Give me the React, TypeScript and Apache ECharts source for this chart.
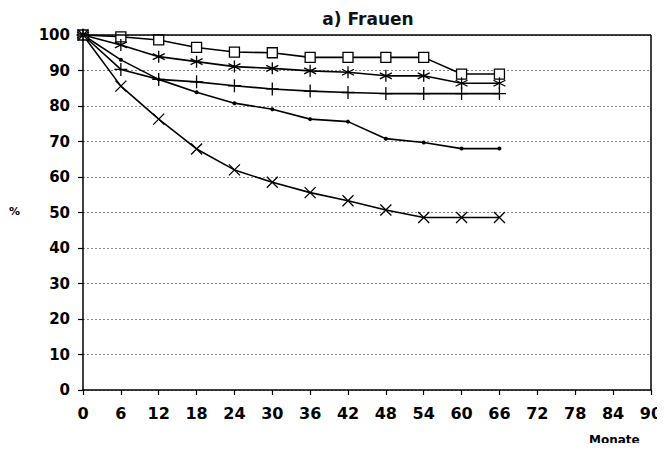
import React, { useEffect, useRef } from "react";
import * as echarts from "echarts";

const months = [0, 6, 12, 18, 24, 30, 36, 42, 48, 54, 60, 66];
const squareSeries = [100, 99.5, 98.6, 96.5, 95.2, 95.0, 93.7, 93.7, 93.7, 93.7, 89.0, 89.0];
const starSeries = [100, 97.2, 93.9, 92.5, 91.1, 90.6, 89.9, 89.5, 88.5, 88.5, 86.4, 86.4];
const plusSeries = [100, 90.3, 87.5, 86.8, 85.7, 84.8, 84.2, 83.8, 83.5, 83.5, 83.5, 83.5];
const dotSeries = [100, 93.0, 87.5, 83.9, 80.8, 79.1, 76.3, 75.6, 70.8, 69.7, 68.0, 68.0];
const crossSeries = [100, 85.6, 76.3, 67.9, 62.0, 58.5, 55.6, 53.3, 50.7, 48.6, 48.6, 48.6];

const xTicks = [0, 6, 12, 18, 24, 30, 36, 42, 48, 54, 60, 66, 72, 78, 84, 90];
const title = "a) Frauen";
const yName = "%";
const xName = "Monate";

const SYM_X = "path://M0,0 L10,10 M10,0 L0,10";
const SYM_STAR = "path://M5,0 L5,10 M0.7,2.5 L9.3,7.5 M0.7,7.5 L9.3,2.5";
const SYM_PLUS = "path://M5,0 L5,10 M1,5 L9,5";

function pair(vals: number[]) {
  return months.map((m, i) => [m, vals[i]]);
}

export default function App() {
  const ref = useRef<HTMLDivElement>(null);
  useEffect(() => {
    if (!ref.current) return;
    const chart = echarts.init(ref.current, null, { renderer: "svg" });
    const font = "DejaVu Sans, Verdana, sans-serif";
    const lineBase = {
      type: "line" as const,
      lineStyle: { color: "#000", width: 1.6 },
      z: 3,
    };
    chart.setOption({
      animation: false,
      backgroundColor: "#fff",
      title: {
        text: title,
        left: 363,
        top: 5,
        textAlign: "center",
        textStyle: { fontFamily: font, fontSize: 17, fontWeight: "bold", color: "#111" },
      },
      grid: { left: 83, right: 14, top: 35, bottom: 61, show: false },
      xAxis: {
        type: "value",
        min: 0,
        max: 90,
        interval: 6,
        axisLine: { show: true, onZero: false, lineStyle: { color: "#000", width: 1.5 } },
        axisTick: { show: true, length: 5, lineStyle: { color: "#000", width: 1.2 } },
        axisLabel: {
          margin: 15,
          fontFamily: font,
          fontSize: 16,
          fontWeight: "bold",
          color: "#000",
          formatter: (v: number) => (xTicks.includes(v) ? String(v) : ""),
        },
        splitLine: { show: false },
      },
      yAxis: {
        type: "value",
        min: 0,
        max: 100,
        interval: 10,
        axisLine: { show: true, lineStyle: { color: "#000", width: 1.5 } },
        axisTick: { show: true, length: 5, lineStyle: { color: "#000", width: 1.2 } },
        axisLabel: {
          margin: 13,
          fontFamily: font,
          fontSize: 15,
          fontWeight: "bold",
          color: "#000",
        },
        splitLine: { show: true, lineStyle: { color: "#888", type: [2, 2], width: 1 } },
      },
      graphic: [
        {
          type: "line",
          shape: { x1: 83, y1: 35, x2: 651, y2: 35 },
          style: { stroke: "#000", lineWidth: 1.5 },
          z: 10,
        },
        {
          type: "line",
          shape: { x1: 651, y1: 35, x2: 651, y2: 390 },
          style: { stroke: "#000", lineWidth: 1.5 },
          z: 10,
        },
        {
          type: "text",
          left: 9,
          top: 206,
          style: { text: yName, fontFamily: font, fontSize: 11, fontWeight: "bold", fill: "#000" },
        },
        {
          type: "text",
          left: 589,
          top: 434,
          style: { text: xName, fontFamily: font, fontSize: 12, fontWeight: "bold", fill: "#000" },
        },
      ],
      series: [
        {
          ...lineBase,
          name: "A",
          data: pair(squareSeries),
          symbol: "rect",
          symbolSize: 10,
          itemStyle: { color: "#fff", borderColor: "#000", borderWidth: 1.3 },
        },
        {
          ...lineBase,
          name: "B",
          data: pair(starSeries),
          symbol: SYM_STAR,
          symbolSize: 12,
          itemStyle: { color: "none", borderColor: "#000", borderWidth: 1.3 },
        },
        {
          ...lineBase,
          name: "C",
          data: pair(plusSeries),
          symbol: SYM_PLUS,
          symbolSize: 13,
          itemStyle: { color: "none", borderColor: "#000", borderWidth: 1.3 },
        },
        {
          ...lineBase,
          name: "D",
          data: pair(dotSeries),
          symbol: "circle",
          symbolSize: 4,
          itemStyle: { color: "#000", borderColor: "#000", borderWidth: 0 },
        },
        {
          ...lineBase,
          name: "E",
          data: pair(crossSeries),
          symbol: SYM_X,
          symbolSize: 11,
          itemStyle: { color: "none", borderColor: "#000", borderWidth: 1.3 },
        },
      ],
    });
    return () => chart.dispose();
  }, []);
  return <div ref={ref} style={{ width: 665, height: 451, margin: -8 }} />;
}
